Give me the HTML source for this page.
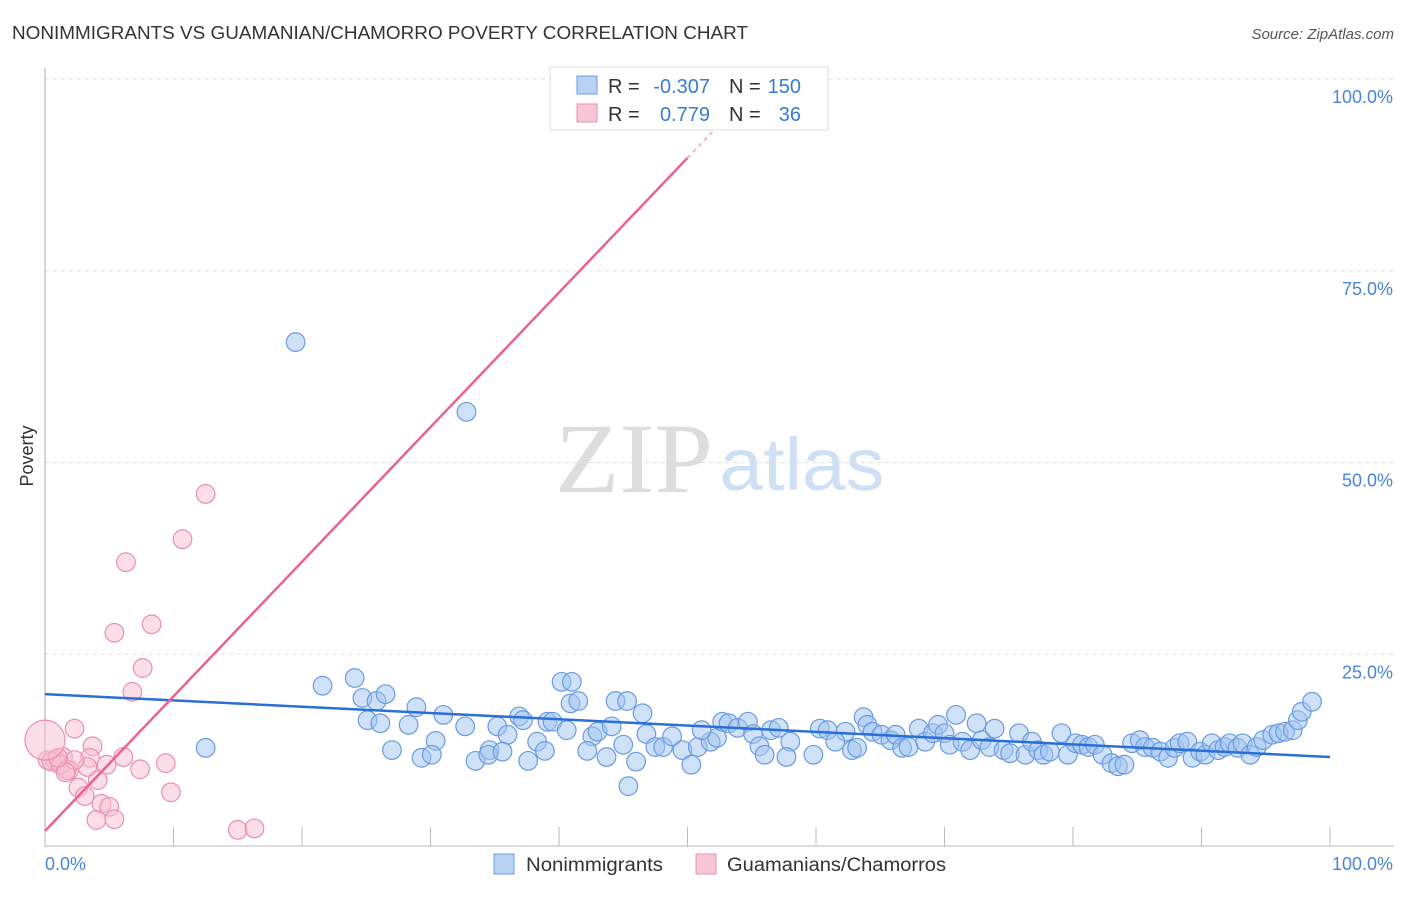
<!DOCTYPE html>
<html><head><meta charset="utf-8"><style>
body{margin:0;background:#fff;font-family:"Liberation Sans",sans-serif;}
svg text{font-family:"Liberation Sans",sans-serif;}
</style></head><body>
<svg id="chart" width="1406" height="892">
<text x="12" y="39" font-size="18" fill="#333" textLength="736" lengthAdjust="spacingAndGlyphs">NONIMMIGRANTS VS GUAMANIAN/CHAMORRO POVERTY CORRELATION CHART</text>
<text x="1394" y="39" font-size="15" fill="#555" font-style="italic" text-anchor="end">Source: ZipAtlas.com</text>
<g>
<text x="634" y="492" font-size="100" fill="#ddd" text-anchor="middle" textLength="158" lengthAdjust="spacingAndGlyphs" style="font-family:'Liberation Serif',serif">ZIP</text>
<text x="802" y="490" font-size="74" fill="#cfe0f4" text-anchor="middle" textLength="165" lengthAdjust="spacingAndGlyphs">atlas</text>
</g>
<g id="grid"></g>
<g id="axes"></g>
<g id="marks"></g>
<text transform="translate(33,456) rotate(-90)" font-size="18" fill="#333" text-anchor="middle">Poverty</text>
<g>
<rect x="550" y="67" width="278" height="63" fill="#fff" stroke="#ddd"/>
<rect x="577" y="76" width="20" height="18" fill="#b8d2f4" stroke="#6a9be0"/>
<rect x="577" y="104" width="20" height="18" fill="#f9c6d6" stroke="#e890ae"/>
<text x="608" y="93" font-size="20" fill="#333">R =</text>
<text x="710" y="93" font-size="20" fill="#3a7bd5" text-anchor="end">-0.307</text>
<text x="729" y="93" font-size="20" fill="#333">N =</text>
<text x="801" y="93" font-size="20" fill="#3a7bd5" text-anchor="end">150</text>
<text x="608" y="121" font-size="20" fill="#333">R =</text>
<text x="710" y="121" font-size="20" fill="#3a7bd5" text-anchor="end">0.779</text>
<text x="729" y="121" font-size="20" fill="#333">N =</text>
<text x="801" y="121" font-size="20" fill="#3a7bd5" text-anchor="end">36</text>
</g>
<g>
<rect x="494" y="854" width="20" height="20" fill="#b8d2f4" stroke="#6a9be0"/>
<text x="526" y="871" font-size="19" fill="#333" textLength="137" lengthAdjust="spacingAndGlyphs">Nonimmigrants</text>
<rect x="696" y="854" width="20" height="20" fill="#f9c6d6" stroke="#e890ae"/>
<text x="727" y="871" font-size="19" fill="#333" textLength="219" lengthAdjust="spacingAndGlyphs">Guamanians/Chamorros</text>
</g>
</svg>
<script>
const yTicks=[25,50,75,100];
const yTickLabels=["25.0%","50.0%","75.0%","100.0%"];
const xTicks=[0,10,20,30,40,50,60,70,80,90,100];
const blueX=[21.6,24.1,24.7,25.8,26.5,25.1,26.1,27.0,28.9,28.3,31.0,30.4,29.3,30.1,32.7,35.2,36.0,33.5,34.6,34.5,35.6,36.9,37.2,40.2,40.9,41.5,38.3,38.9,37.6,39.1,39.5,40.6,44.4,46.5,42.6,43.0,44.1,42.2,43.7,45.0,46.0,45.4,46.8,47.5,48.1,48.8,49.6,50.3,50.8,51.8,52.3,51.1,52.7,53.2,53.9,54.7,55.1,55.6,56.0,56.5,57.1,58.0,57.7,60.3,60.9,59.8,62.3,61.5,62.8,63.2,63.7,64.0,64.4,65.1,65.8,66.2,66.7,67.2,68.0,68.5,69.1,69.5,70.0,70.9,70.4,71.4,72.0,72.5,72.9,73.9,73.5,74.6,75.1,75.8,76.3,76.8,77.3,77.7,78.2,79.1,79.6,80.2,80.7,81.2,81.7,82.3,83.0,83.5,84.0,84.6,85.2,85.6,86.2,86.8,87.4,87.9,88.3,88.9,89.3,89.9,90.3,90.8,91.3,91.8,92.2,92.8,93.2,93.8,94.3,94.8,95.5,96.0,96.5,97.1,97.5,97.8,98.6,19.5,32.8,12.5,41.0,45.3];
const blueY=[20.9,21.9,19.3,18.9,19.8,16.4,16.0,12.5,18.1,15.8,17.1,13.7,11.5,11.9,15.6,15.6,14.5,11.1,12.5,11.9,12.3,16.9,16.4,21.4,18.6,18.9,13.6,12.4,11.1,16.2,16.2,15.1,18.9,17.3,14.3,14.9,15.6,12.4,11.6,13.2,11.0,7.8,14.6,12.9,12.9,14.3,12.5,10.6,12.9,13.6,14.1,15.1,16.2,16.0,15.4,16.2,14.6,13.0,11.9,15.1,15.4,13.6,11.6,15.3,15.1,11.9,14.9,13.6,12.5,12.8,16.8,15.8,14.9,14.5,13.8,14.5,12.8,12.9,15.3,13.6,14.7,15.8,14.7,17.1,13.2,13.6,12.5,16.0,13.8,15.3,12.9,12.5,12.1,14.7,11.9,13.6,12.5,11.9,12.3,14.7,11.9,13.4,13.2,12.9,13.2,11.9,10.8,10.4,10.6,13.4,13.8,12.9,12.8,12.3,11.5,12.8,13.4,13.6,11.5,12.3,11.9,13.4,12.5,12.9,13.4,12.8,13.4,11.9,12.9,13.8,14.5,14.7,14.9,15.1,16.4,17.5,18.8,65.7,56.6,12.8,21.4,18.9];
const pinkX=[12.5,10.7,6.3,5.4,8.3,7.6,6.8,2.3,3.7,1.4,0.8,0.2,1.9,3.5,6.1,9.4,4.8,7.4,4.1,2.6,3.1,4.4,5.0,4.0,5.4,15.0,16.3,9.8,0.5,1.2,1.7,3.3,2.3,1.6,1.0];
const pinkY=[45.9,40.0,37.0,27.8,28.9,23.2,20.1,15.3,13.0,11.6,11.2,11.2,9.9,11.5,11.6,10.8,10.6,10.0,8.6,7.6,6.5,5.5,5.1,3.4,3.5,2.1,2.3,7.0,11.0,10.6,9.9,10.3,11.2,9.6,11.5];
const pinkBig=[0,13.8];
const blueTrend=[19.8,11.6];
const pinkTrend=[1.96,1.755];
const pinkSolidEnd=50, pinkDashEnd=52.5;

const NS="http://www.w3.org/2000/svg";
const X0=45,X1=1330,Y0=846,Y100=79;
const sx=v=>X0+(X1-X0)*v/100;
const sy=v=>Y0-(Y0-Y100)*v/100;
function mk(tag,attrs,parent){const e=document.createElementNS(NS,tag);for(const k in attrs)e.setAttribute(k,attrs[k]);parent.appendChild(e);return e;}
const grid=document.getElementById('grid'),axes=document.getElementById('axes'),marks=document.getElementById('marks');
yTicks.forEach((t,i)=>{
 const l=mk('line',{x1:X0,x2:1394,y1:sy(t),y2:sy(t),stroke:'#ddd','stroke-dasharray':'4,4'},grid);
 
 
 const tx=mk('text',{x:1393,y:sy(t)+24,'font-size':18,fill:'#4a86d8','text-anchor':'end'},axes);
 tx.textContent=yTickLabels[i];
 
 
});
let ax=mk('line',{x1:X0,x2:X0,y1:68,y2:Y0,stroke:'#aaa'},axes);


let bx=mk('line',{x1:X0,x2:1394,y1:Y0,y2:Y0,stroke:'#bbb'},axes);


xTicks.forEach(t=>{
 const l=mk('line',{x1:sx(t),x2:sx(t),y1:Y0,y2:Y0-19,stroke:'#bbb'},axes);
 
 
});
let xl=mk('text',{x:45,y:870,'font-size':18,fill:'#4a86d8'},axes);xl.textContent='0.0%';


let xr=mk('text',{x:1393,y:870,'font-size':18,fill:'#4a86d8','text-anchor':'end'},axes);xr.textContent='100.0%';



blueX.forEach((x,i)=>{
 const c=mk('circle',{cx:sx(x),cy:sy(blueY[i]),r:9.3,fill:'rgba(160,196,240,0.5)',stroke:'#6a9be0','stroke-width':1.2},marks);
 
 
});
pinkX.forEach((x,i)=>{
 const c=mk('circle',{cx:sx(x),cy:sy(pinkY[i]),r:9.3,fill:'rgba(248,190,210,0.5)',stroke:'#e890ae','stroke-width':1.2},marks);
 
 
});
let big=mk('circle',{cx:sx(pinkBig[0]),cy:sy(pinkBig[1]),r:20,fill:'rgba(248,190,210,0.5)',stroke:'#e890ae','stroke-width':1.2},marks);


let bt=mk('line',{x1:sx(0),y1:sy(blueTrend[0]),x2:sx(100),y2:sy(blueTrend[1]),stroke:'#2a6fd6','stroke-width':2.5},marks);


const pf=x=>pinkTrend[0]+pinkTrend[1]*x;
let pt=mk('line',{x1:sx(0),y1:sy(pf(0)),x2:sx(pinkSolidEnd),y2:sy(pf(pinkSolidEnd)),stroke:'#e8648e','stroke-width':2.5},marks);


let pd=mk('line',{x1:sx(pinkSolidEnd),y1:sy(pf(pinkSolidEnd)),x2:sx(pinkDashEnd),y2:sy(pf(pinkDashEnd)),stroke:'#f2b4c8','stroke-width':2,'stroke-dasharray':'4,4'},marks);


</script>
</body></html>
